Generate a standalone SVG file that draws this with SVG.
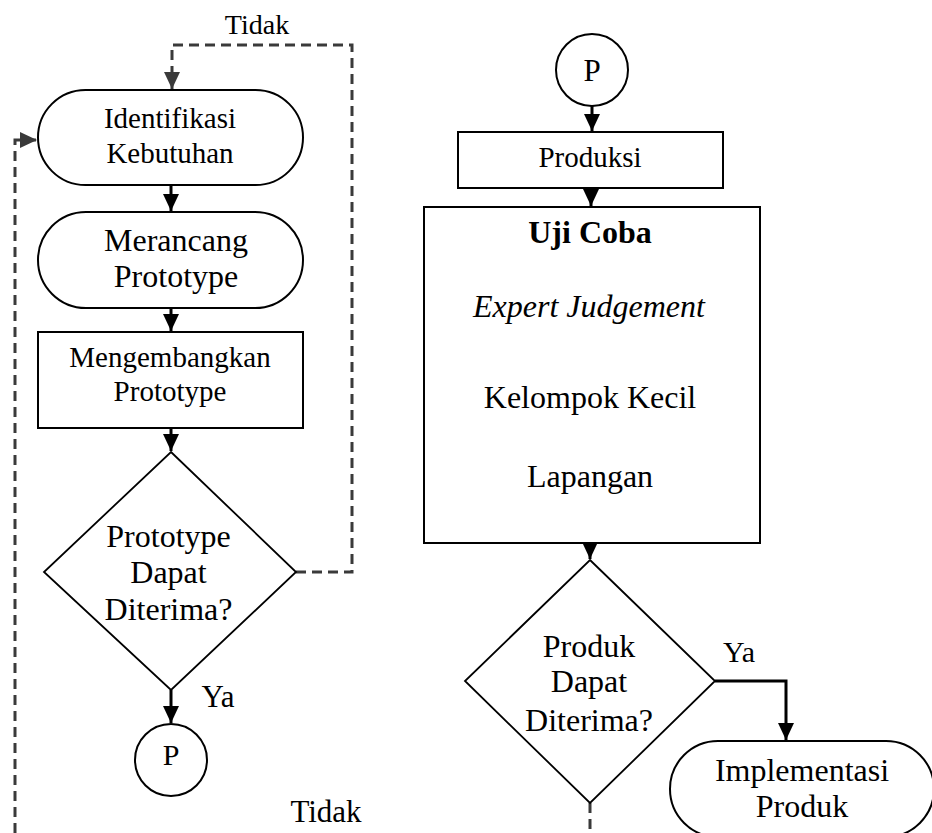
<svg xmlns="http://www.w3.org/2000/svg" width="932" height="833" viewBox="0 0 932 833">
<style>
.shape{fill:#fff;stroke:#000;stroke-width:2}
.dia{fill:#fff;stroke:#000;stroke-width:1.8}
.t{font-family:"Liberation Serif","Times New Roman",serif;fill:#000;text-anchor:middle}
.solid{fill:none;stroke:#000;stroke-width:3}
.dash{fill:none;stroke:#3a3a3a;stroke-width:3;stroke-dasharray:10 6}
</style>
<defs>
<marker id="ah" markerUnits="userSpaceOnUse" markerWidth="17" markerHeight="17" viewBox="0 0 17 17" refX="17" refY="8.5" orient="auto">
<path d="M0,0.5 L17,8.5 L0,16.5 Z" fill="#000"/>
</marker>
<marker id="ahd" markerUnits="userSpaceOnUse" markerWidth="17" markerHeight="17" viewBox="0 0 17 17" refX="17" refY="8.5" orient="auto">
<path d="M0,0.5 L17,8.5 L0,16.5 Z" fill="#3a3a3a"/>
</marker>
</defs>
<rect width="932" height="833" fill="#fff"/>

<g id="connectors">
<path class="dash" d="M296,572 H352 V45 H172 V89" marker-end="url(#ahd)"/>
<path class="dash" d="M15,833 V140 H37" marker-end="url(#ahd)"/>
<path class="solid" d="M171,185 V211" marker-end="url(#ah)"/>
<path class="solid" d="M171,308 V331" marker-end="url(#ah)"/>
<path class="solid" d="M171,428 V451" marker-end="url(#ah)"/>
<path class="solid" d="M171,690 V723" marker-end="url(#ah)"/>
<path class="solid" d="M592,106 V131" marker-end="url(#ah)"/>
<path class="solid" d="M591,188 V206" marker-end="url(#ah)"/>
<path class="solid" d="M590,543 V559" marker-end="url(#ah)"/>
<path class="solid" d="M715,681 H786 V740" marker-end="url(#ah)"/>
<path class="dash" d="M590,803 V833"/>
<text class="t" x="257" y="34" font-size="28">Tidak</text>
<text class="t" x="218" y="707" font-size="31">Ya</text>
<text class="t" x="326" y="822" font-size="31">Tidak</text>
<text class="t" x="739" y="662" font-size="30">Ya</text>
</g>

<g id="identifikasi">
<rect class="shape" x="38" y="90" width="265" height="95" rx="47.5"/>
<text class="t" x="170" y="128" font-size="29">Identifikasi</text>
<text class="t" x="170" y="163" font-size="29">Kebutuhan</text>
</g>
<g id="merancang">
<rect class="shape" x="38" y="212" width="265" height="96" rx="48"/>
<text class="t" x="176" y="251" font-size="32">Merancang</text>
<text class="t" x="176" y="287" font-size="32">Prototype</text>
</g>
<g id="mengembangkan">
<rect class="shape" x="38" y="332" width="265" height="96"/>
<text class="t" x="170" y="367" font-size="29">Mengembangkan</text>
<text class="t" x="170" y="401" font-size="29">Prototype</text>
</g>
<g id="keputusan1">
<polygon class="dia" points="171,452 296,572 171,690 44,572"/>
<text class="t" x="168.5" y="547" font-size="32">Prototype</text>
<text class="t" x="168.5" y="583" font-size="32">Dapat</text>
<text class="t" x="168.5" y="620" font-size="32">Diterima?</text>
</g>
<g id="p1">
<circle class="shape" cx="171" cy="760" r="36"/>
<text class="t" x="171" y="765" font-size="30">P</text>
</g>

<g id="p2">
<circle class="shape" cx="592" cy="70" r="36"/>
<text class="t" x="592" y="81" font-size="31">P</text>
</g>
<g id="produksi">
<rect class="shape" x="458" y="132" width="265" height="56"/>
<text class="t" x="590" y="167" font-size="29">Produksi</text>
</g>
<g id="ujicoba">
<rect class="shape" x="424" y="207" width="336" height="336"/>
<text class="t" x="590" y="243" font-size="32" font-weight="bold">Uji Coba</text>
<text class="t" x="589" y="317" font-size="32" font-style="italic">Expert Judgement</text>
<text class="t" x="590" y="408" font-size="32">Kelompok Kecil</text>
<text class="t" x="590" y="487" font-size="32">Lapangan</text>
</g>
<g id="keputusan2">
<polygon class="dia" points="590,560 715,681 590,803 465,681"/>
<text class="t" x="589" y="657" font-size="32">Produk</text>
<text class="t" x="589" y="692" font-size="32">Dapat</text>
<text class="t" x="589" y="731" font-size="32">Diterima?</text>
</g>
<g id="implementasi">
<rect class="shape" x="670" y="741" width="264" height="96" rx="48"/>
<text class="t" x="802" y="781" font-size="32">Implementasi</text>
<text class="t" x="802" y="817" font-size="32">Produk</text>
</g>
</svg>
